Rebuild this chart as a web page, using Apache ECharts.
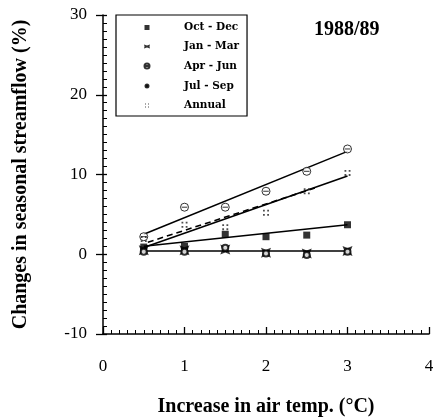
<!DOCTYPE html>
<html>
<head>
<meta charset="utf-8">
<script src="https://cdn.jsdelivr.net/npm/echarts@6/dist/echarts.min.js"></script>
<style>html,body{margin:0;padding:0;background:#fff}#c{width:434px;height:419px}</style>
</head>
<body>
<div id="c"></div>
<script>
// Data
var tempX = [0.5, 1, 1.5, 2, 2.5, 3];
var octDec = [0.9, 1.0, 2.5, 2.2, 2.4, 3.7];
var janMar = [0.5, 0.5, 0.6, 0.2, 0.1, 0.4];
var aprJun = [2.2, 5.9, 5.9, 7.9, 10.4, 13.2];
var julSep = [0.3, 0.3, 0.8, 0.1, -0.1, 0.3];
var annual = [1.9, 3.7, 3.4, 5.2, 7.9, 10.2];

// Fitted lines (end points)
var fitX = [0.5, 3];
var fitUpper = [2.5, 12.9];
var fitMiddle = [0.85, 9.8];
var fitOctDec = [1.0, 3.7];
var fitFlat = [0.4, 0.4];
var fitDashedX = [0.55, 2.6];
var fitDashed = [1.5, 8.3];

var xTicks = [0, 1, 2, 3, 4];
var yTicks = [-10, 0, 10, 20, 30];
var legendNames = ['Oct - Dec', 'Jan - Mar', 'Apr - Jun', 'Jul - Sep', 'Annual'];

function pairs(xs, ys) { return xs.map(function (x, i) { return [x, ys[i]]; }); }

var serif = 'Liberation Serif';
var chart = echarts.init(document.getElementById('c'), null, {renderer: 'canvas'});

function fitLine(xs, ys, dashed) {
  return {
    type: 'line', data: pairs(xs, ys), showSymbol: false, symbol: 'none',
    silent: true, z: 1,
    lineStyle: {color: '#000', width: 1.6, type: dashed ? [6, 4] : 'solid'}
  };
}

var option = {
  animation: false,
  backgroundColor: '#fff',
  title: {
    text: '1988/89', left: 314, top: 20, padding: 0,
    textStyle: {fontFamily: serif, fontWeight: 'bold', fontSize: 20, color: '#000'}
  },
  legend: {
    orient: 'vertical', left: 116, top: 15,
    padding: [7, 8, 5, 25],
    itemWidth: 10, itemHeight: 10, itemGap: 8,
    borderColor: '#000', borderWidth: 1.2,
    textStyle: {fontFamily: 'DejaVu Serif', fontWeight: 'bold', fontSize: 10.5, lineHeight: 10, color: '#000', padding: [0, 0, 0, 27]},
    data: [
      {name: legendNames[0], icon: 'path://M0,0M10,10M2.5,2.5h5v5h-5z'},
      {name: legendNames[1], icon: 'path://M0,0M10,10M2,3L5,4L8,3L7.5,5L8,7L5,6L2,7L2.5,5Z'},
      {name: legendNames[2], icon: 'path://M0,0M10,10M2.5,5A2.5,2.5,0,1,1,7.5,5A2.5,2.5,0,1,1,2.5,5ZM3,5L7,5'},
      {name: legendNames[3], icon: 'path://M0,0M10,10M3.5,5A1.5,1.5,0,1,1,6.5,5A1.5,1.5,0,1,1,3.5,5Z'},
      {name: legendNames[4], icon: 'path://M0,0M10,10M3,3h1v1h-1zM6,3h1v1h-1zM3,6h1v1h-1zM6,6h1v1h-1z'}
    ]
  },
  grid: {left: 103, right: 5, top: 15, bottom: 85, containLabel: false, outerBoundsMode: 'none'},
  xAxis: {
    type: 'value', min: xTicks[0], max: xTicks[xTicks.length - 1], interval: 1,
    name: 'Increase in air temp. (°C)', nameLocation: 'middle', nameGap: 63,
    nameTextStyle: {fontFamily: serif, fontWeight: 'bold', fontSize: 20, color: '#000'},
    axisLine: {onZero: false, lineStyle: {color: '#000', width: 1.5}},
    axisTick: {inside: true, length: 7, lineStyle: {color: '#000', width: 1.3}},
    minorTick: {show: true, splitNumber: 10, length: 4, lineStyle: {color: '#000', width: 1}},
    axisLabel: {fontFamily: serif, fontSize: 17, color: '#000', margin: 24},
    splitLine: {show: false}
  },
  yAxis: [{
    type: 'value', min: yTicks[0], max: yTicks[yTicks.length - 1], interval: 10,
    name: 'Changes in seasonal streamflow (%)', nameLocation: 'middle', nameGap: 72,
    nameTextStyle: {fontFamily: serif, fontWeight: 'bold', fontSize: 20, color: '#000'},
    axisLine: {onZero: false, lineStyle: {color: '#000', width: 1.5}},
    axisTick: {inside: true, length: 4, lineStyle: {color: '#000', width: 1.3}},
    minorTick: {show: true, splitNumber: 10, length: 4, lineStyle: {color: '#000', width: 1}},
    axisLabel: {fontFamily: serif, fontSize: 17, color: '#000', margin: 16},
    splitLine: {show: false}
  }, {
    type: 'value', min: yTicks[0], max: yTicks[yTicks.length - 1], interval: 10,
    position: 'left', offset: 0,
    axisLine: {show: false, onZero: false},
    axisTick: {show: true, inside: false, length: 7, lineStyle: {color: '#000', width: 1.3}},
    minorTick: {show: false},
    axisLabel: {show: false},
    splitLine: {show: false}
  }],
  series: [
    fitLine(fitX, fitUpper, false),
    fitLine(fitX, fitMiddle, false),
    fitLine(fitDashedX, fitDashed, true),
    fitLine(fitX, fitOctDec, false),
    fitLine(fitX, fitFlat, false),
    {
      name: legendNames[0], type: 'scatter', data: pairs(tempX, octDec), z: 3,
      symbol: 'rect', symbolSize: 7, itemStyle: {color: '#000'}
    },
    {
      name: legendNames[1], type: 'scatter', data: pairs(tempX, janMar), z: 3,
      symbol: 'path://M0,0L10,4L20,0L16,10L20,20L10,16L0,20L4,10Z', symbolSize: 10,
      itemStyle: {color: '#000'}
    },
    {
      name: legendNames[2], type: 'scatter', data: pairs(tempX, aprJun), z: 3,
      symbol: 'path://M0,10A10,10,0,1,1,20,10A10,10,0,1,1,0,10ZM3,10L17,10', symbolSize: 8,
      itemStyle: {color: '#fff', borderColor: '#000', borderWidth: 1}
    },
    {
      name: legendNames[3], type: 'scatter', data: pairs(tempX, julSep), z: 4,
      symbol: 'emptyCircle', symbolSize: 6,
      itemStyle: {color: '#000', borderColor: '#000', borderWidth: 1.5}
    },
    {
      name: legendNames[4], type: 'scatter', data: pairs(tempX, annual), z: 3,
      symbol: 'path://M0,0h3v3h-3zM7,0h3v3h-3zM0,7h3v3h-3zM7,7h3v3h-3z', symbolSize: 6,
      itemStyle: {color: '#222'}
    }
  ]
};
chart.setOption(option);
</script>
</body>
</html>
